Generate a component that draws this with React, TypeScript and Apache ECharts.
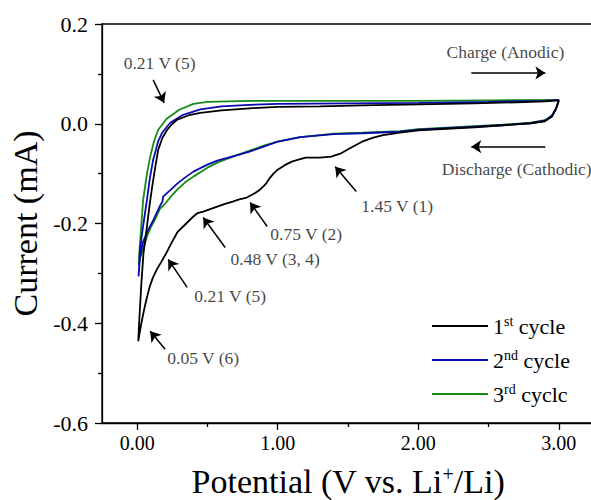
import React, { useEffect, useRef } from "react";
import * as echarts from "echarts";

const FONT = "Liberation Serif";

// Potential (V) / current (mA) pairs, cathodic sweep then anodic sweep
const cycle1: number[][] = [
  [3.0, 0.046], [2.98, 0.03], [2.95, 0.014], [2.9, 0.005], [2.8, 0.001], [2.6, -0.003], [2.4, -0.007],
  [2.2, -0.01], [2.0, -0.013], [1.87, -0.018], [1.75, -0.023], [1.68, -0.028], [1.6, -0.036],
  [1.52, -0.048], [1.445, -0.06], [1.38, -0.066], [1.3, -0.068], [1.2, -0.068], [1.16, -0.071],
  [1.1, -0.076], [1.05, -0.083], [1.0, -0.092], [0.97, -0.1], [0.94, -0.11], [0.92, -0.119],
  [0.9, -0.125], [0.885, -0.129], [0.87, -0.133], [0.85, -0.137], [0.82, -0.142], [0.78, -0.148],
  [0.72, -0.152], [0.68, -0.156], [0.62, -0.161], [0.57, -0.166], [0.52, -0.171], [0.47, -0.176],
  [0.43, -0.179], [0.4, -0.186], [0.356, -0.198], [0.32, -0.208], [0.285, -0.218], [0.25, -0.236],
  [0.21, -0.258], [0.17, -0.278], [0.14, -0.292], [0.11, -0.31], [0.09, -0.326], [0.07, -0.348],
  [0.05, -0.372], [0.03, -0.4], [0.015, -0.424], [0.008, -0.436],
  [0.012, -0.41], [0.02, -0.37], [0.03, -0.32], [0.045, -0.26], [0.07, -0.205], [0.09, -0.16],
  [0.107, -0.126], [0.13, -0.085], [0.15, -0.052], [0.18, -0.028], [0.214, -0.012], [0.25, 0.0],
  [0.285, 0.008], [0.377, 0.018], [0.45, 0.022], [0.6, 0.027], [0.8, 0.031], [1.0, 0.034],
  [1.3, 0.035], [1.6, 0.037], [2.0, 0.039], [2.4, 0.041], [2.7, 0.043], [2.9, 0.045], [3.0, 0.047],
];

const cycle2: number[][] = [
  [3.0, 0.048], [2.98, 0.03], [2.95, 0.016], [2.9, 0.006], [2.8, 0.001], [2.6, -0.003], [2.4, -0.006],
  [2.2, -0.009], [2.0, -0.012], [1.87, -0.016], [1.6, -0.019], [1.4, -0.021], [1.16, -0.027],
  [1.0, -0.036], [0.9, -0.046], [0.8, -0.056], [0.7, -0.064], [0.57, -0.074], [0.5, -0.082],
  [0.4, -0.096], [0.34, -0.108], [0.285, -0.12], [0.24, -0.132], [0.2, -0.142], [0.185, -0.146],
  [0.18, -0.156], [0.16, -0.166], [0.14, -0.178], [0.114, -0.194], [0.08, -0.212], [0.043, -0.236],
  [0.02, -0.268], [0.01, -0.306],
  [0.015, -0.285], [0.02, -0.252], [0.045, -0.2], [0.07, -0.152], [0.09, -0.11], [0.114, -0.072],
  [0.15, -0.035], [0.178, -0.018], [0.235, 0.002], [0.327, 0.018], [0.45, 0.029], [0.6, 0.035],
  [0.8, 0.038], [1.0, 0.04], [1.5, 0.041], [2.0, 0.042], [2.5, 0.044], [2.9, 0.046], [3.0, 0.048],
];

const cycle3: number[][] = [
  [3.0, 0.048], [2.98, 0.03], [2.95, 0.016], [2.9, 0.007], [2.8, 0.002], [2.6, -0.002], [2.4, -0.005],
  [2.2, -0.008], [2.0, -0.011], [1.87, -0.015], [1.6, -0.018], [1.4, -0.02], [1.16, -0.027],
  [1.0, -0.036], [0.9, -0.044], [0.8, -0.054], [0.7, -0.064], [0.57, -0.078], [0.5, -0.088],
  [0.4, -0.106], [0.34, -0.118], [0.285, -0.132], [0.24, -0.146], [0.2, -0.16], [0.163, -0.17],
  [0.13, -0.19], [0.1, -0.206], [0.07, -0.226], [0.04, -0.254], [0.02, -0.27], [0.012, -0.286],
  [0.015, -0.262], [0.02, -0.24], [0.043, -0.152], [0.07, -0.1], [0.093, -0.066], [0.12, -0.035],
  [0.15, -0.012], [0.21, 0.01], [0.3, 0.028], [0.4, 0.04], [0.5, 0.044], [0.8, 0.046], [1.5, 0.046],
  [2.0, 0.046], [2.5, 0.047], [3.0, 0.048],
];

const seriesNames = ["1st cycle", "2nd cycle", "3rd cycle"];
const legendLabels = ["1{sup|st} cycle", "2{sup|nd} cycle", "3{sup|rd} cyclc"];
const seriesColors = ["#000000", "#0a0ab0", "#168c16"];

const xMajorTicks = [0, 1, 2, 3];
const xMinorTicks = [0.5, 1.5, 2.5];

const annotationTexts = [
  "0.21 V (5)", "Charge (Anodic)", "Discharge (Cathodic)", "1.45 V (1)",
  "0.75 V (2)", "0.48 V (3, 4)", "0.21 V (5)", "0.05 V (6)",
];
const annotationAt = [
  [0.16, 0.122], [2.62, 0.144], [2.7, -0.09], [1.85, -0.164],
  [1.203, -0.222], [0.982, -0.272], [0.662, -0.346], [0.47, -0.47],
];
const arrowFrom = [
  [0.114, 0.088], [2.377, 0.102], [2.904, -0.046], [1.559, -0.136],
  [0.925, -0.206], [0.626, -0.248], [0.356, -0.328], [0.199, -0.452],
];
const arrowTo = [
  [0.192, 0.042], [2.904, 0.102], [2.377, -0.046], [1.409, -0.086],
  [0.804, -0.158], [0.47, -0.188], [0.221, -0.272], [0.093, -0.416],
];

export default function App() {
  const ref = useRef<HTMLDivElement>(null);
  useEffect(() => {
    if (!ref.current) return;
    const chart = echarts.init(ref.current, null, { renderer: "svg" });
    const cycles = [cycle1, cycle2, cycle3];
    const option: any = {
      animation: false,
      backgroundColor: "#ffffff",
      grid: {
        left: 102, top: 24, right: -3, bottom: 77,
        outerBoundsMode: "none",
        containLabel: false,
        show: true, borderColor: "#000", borderWidth: 1.3, backgroundColor: "transparent",
      },
      legend: {
        data: seriesNames,
        orient: "vertical",
        left: 432,
        top: 314,
        padding: 0,
        icon: "rect",
        itemWidth: 56,
        itemHeight: 2,
        itemGap: 10,
        formatter: (name: string) => legendLabels[seriesNames.indexOf(name)],
        textStyle: {
          fontFamily: FONT, fontSize: 22, lineHeight: 24, color: "#000",
          rich: { sup: { fontFamily: FONT, fontSize: 14, lineHeight: 13, verticalAlign: "top", color: "#000" } },
        },
      },
      xAxis: [
        {
          type: "value", min: -0.25, max: 3.25, position: "bottom",
          axisLine: { show: true, onZero: false, lineStyle: { color: "#000", width: 1.3 } },
          axisTick: { show: true, customValues: xMajorTicks, length: 7, lineStyle: { color: "#000", width: 1.3 } },
          axisLabel: {
            show: true, customValues: xMajorTicks, margin: 10,
            formatter: (v: number) => v.toFixed(2),
            fontFamily: FONT, fontSize: 20, color: "#000",
          },
          splitLine: { show: false },
          name: "Potential (V vs. Li{sup|+}/Li)",
          nameLocation: "middle",
          nameGap: 41,
          nameTextStyle: {
            fontFamily: FONT, fontSize: 34, color: "#000", lineHeight: 34,
            rich: { sup: { fontFamily: FONT, fontSize: 20, lineHeight: 20, verticalAlign: "top", color: "#000" } },
          },
        },
        {
          type: "value", min: -0.25, max: 3.25, position: "bottom",
          axisLine: { show: false, onZero: false },
          axisTick: { show: true, customValues: xMinorTicks, length: 4, lineStyle: { color: "#000", width: 1.3 } },
          axisLabel: { show: false },
          splitLine: { show: false },
        },
      ],
      yAxis: {
        type: "value", min: -0.6, max: 0.2, interval: 0.2,
        axisLine: { show: true, onZero: false, lineStyle: { color: "#000", width: 1.3 } },
        axisTick: { show: true, length: 7, lineStyle: { color: "#000", width: 1.3 } },
        minorTick: { show: true, splitNumber: 2, length: 4, lineStyle: { color: "#000", width: 1.3 } },
        axisLabel: {
          margin: 14, formatter: (v: number) => v.toFixed(1),
          fontFamily: FONT, fontSize: 22, color: "#000",
        },
        splitLine: { show: false },
        name: "Current (mA)",
        nameLocation: "middle",
        nameRotate: 90,
        nameGap: 55,
        nameTextStyle: { fontFamily: FONT, fontSize: 34, color: "#000" },
      },
      series: [
        ...cycles.map((d, i) => ({
          name: seriesNames[i],
          type: "line",
          data: d,
          showSymbol: false,
          symbol: "none",
          lineStyle: { color: seriesColors[i], width: 1.8 },
          itemStyle: { color: seriesColors[i] },
          z: 3 - i,
          silent: true,
        })),
        {
          name: "annotations",
          type: "scatter",
          data: annotationAt.map((p, i) => ({ value: p, name: annotationTexts[i] })),
          symbolSize: 1,
          itemStyle: { color: "transparent" },
          silent: true,
          label: {
            show: true, position: "inside",
            formatter: (p: any) => p.name,
            fontFamily: FONT, fontSize: 17.5, color: "#111",
          },
          markLine: {
            silent: true,
            symbol: ["none", "arrow"],
            symbolSize: 10,
            label: { show: false },
            lineStyle: { color: "#000", width: 1.5, type: "solid" },
            data: arrowFrom.map((f, i) => [{ coord: f }, { coord: arrowTo[i] }]),
          },
        },
      ],
    };
    chart.setOption(option);
    return () => chart.dispose();
  }, []);
  return (
    <div
      ref={ref}
      style={{ position: "absolute", left: 0, top: 0, width: 591, height: 500, background: "#fff" }}
    />
  );
}
